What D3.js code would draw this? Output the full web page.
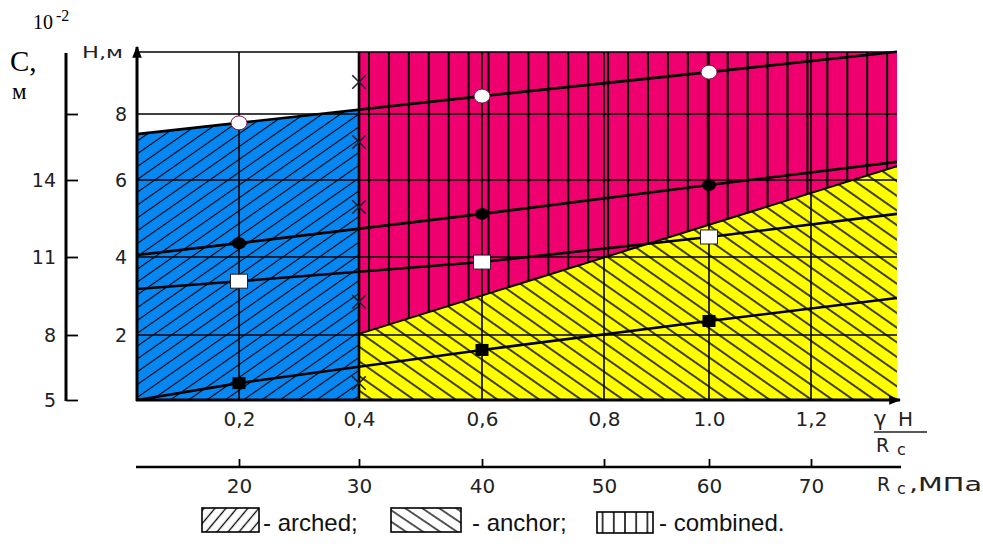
<!DOCTYPE html>
<html lang="en">
<head>
<meta charset="UTF-8">
<title>Zones of support types</title>
<style>
  body{ margin:0; overflow:hidden; background:#fff; }
</style>
</head>
<body>
<script src="https://cdnjs.cloudflare.com/ajax/libs/d3/7.8.2/d3.min.js"></script>
<script>
// ---- data ----
const xTicks = [0.2, 0.4, 0.6, 0.8, 1.0, 1.2];
const xTickLabels = ["0,2", "0,4", "0,6", "0,8", "1.0", "1,2"];
const rcTicks = [20, 30, 40, 50, 60, 70];
const hTicks = [2, 4, 6, 8];
const cTicks = [5, 8, 11, 14, 17];
const cTickLabels = ["5", "8", "11", "14", ""];

// trend lines: x = gamma*H/Rc, values = H, m
const lineX = [0.03, 0.2, 0.6, 1.0, 1.37];
const hOpenCircle = [7.39, 7.73, 8.56, 9.31, 9.95];
const hDot = [4.05, 4.36, 5.12, 5.87, 6.55];
const hOpenSquare = [3.18, 3.38, 3.87, 4.52, 5.12];
const hSquare = [0, 0.52, 1.54, 2.36, 2.95];

const crossX = 0.4;
const crossH = [9.0, 7.15, 5.3, 2.85, 0.52];

// zones [x, H]
const archedZone = [[0.03, 0], [0.03, 7.39], [0.4, 8.14], [0.4, 0]];
const combinedZone = [[0.4, 0], [0.4, 9.94], [1.37, 9.94], [1.37, 0]];
const anchorZone = [[0.4, 0], [0.4, 2.03], [1.37, 6.42], [1.37, 0]];

const legendLabels = ["- arched;", "- anchor;", "- combined."];

// ---- scales (the original grid is hand drawn, spacing is uneven) ----
const x = d3.scaleLinear()
  .domain([0.03, 0.2, 0.4, 0.6, 0.8, 1.0, 1.2, 1.37])
  .range([137, 239, 359, 482, 604, 709, 811, 897]);
const y = d3.scaleLinear()
  .domain([0, 2, 4, 6, 8, 9.94])
  .range([400, 335, 257, 180, 114, 52]);
const rc = d3.scaleLinear().domain(x.domain().map(d => 10 + 50 * d)).range(x.range());
const c = d3.scaleLinear().domain(y.domain().map(d => 5 + 1.5 * d)).range(y.range());

const x0 = x(0.03), x1 = x(1.37), yTop = y(9.94), yBot = y(0);

const svg = d3.select('body').append('svg')
  .attr('width', 983).attr('height', 546);

const defs = svg.append('defs');

function hatch(id, fill, step, angle, sw, ox) {
  const p = defs.append('pattern').attr('id', id)
    .attr('patternUnits', 'userSpaceOnUse')
    .attr('width', step).attr('height', step)
    .attr('patternTransform', `translate(${ox || 0},0) rotate(${angle})`);
  p.append('rect').attr('width', step).attr('height', step).attr('fill', fill);
  p.append('line').attr('x1', -1).attr('x2', step + 1)
    .attr('y1', step / 2).attr('y2', step / 2)
    .attr('stroke', '#000').attr('stroke-width', sw);
}
hatch('hArched', '#0787f2', 10.5, -35, 1.1);
hatch('hAnchor', '#ffff00', 12, 35, 1.5);
hatch('hCombined', '#f0006f', 19.93, 90, 2, x(0.4));
hatch('lgArched', '#fff', 8.4, -50, 1.3);
hatch('lgAnchor', '#fff', 9.5, 34, 1.3);
hatch('lgCombined', '#fff', 11.2, 90, 1.5, 597);

defs.append('clipPath').attr('id', 'plot')
  .append('rect').attr('x', x0).attr('y', yTop - 2)
  .attr('width', x1 - x0).attr('height', yBot - yTop + 2);

defs.append('marker').attr('id', 'arrow')
  .attr('viewBox', '0 0 10 10').attr('refX', 9).attr('refY', 5)
  .attr('markerWidth', 4).attr('markerHeight', 4)
  .attr('markerUnits', 'strokeWidth').attr('orient', 'auto')
  .append('path').attr('d', 'M0,1L10,5L0,9Z').attr('fill', '#000');

const zone = d3.line().x(d => x(d[0])).y(d => y(d[1]));

const g = svg.append('g').attr('clip-path', 'url(#plot)');

g.append('path').attr('d', zone(archedZone) + 'Z').attr('fill', 'url(#hArched)');
g.append('path').attr('d', zone(combinedZone) + 'Z').attr('fill', 'url(#hCombined)');
g.append('path').attr('d', zone(anchorZone) + 'Z').attr('fill', 'url(#hAnchor)');

// grid
g.selectAll('.hg').data(hTicks).join('line')
  .attr('x1', x0).attr('x2', x1)
  .attr('y1', d => y(d)).attr('y2', d => y(d))
  .attr('stroke', '#000').attr('stroke-width', 1.6);
g.selectAll('.vg').data(xTicks).join('line')
  .attr('x1', d => x(d)).attr('x2', d => x(d))
  .attr('y1', yTop).attr('y2', yBot)
  .attr('stroke', '#000').attr('stroke-width', d => d === 0.4 ? 2.6 : 1.6);

// top edge of the field
svg.append('line').attr('x1', x0).attr('x2', x1).attr('y1', yTop).attr('y2', yTop)
  .attr('stroke', '#000').attr('stroke-width', 1.6);

// anchor zone border
g.append('line')
  .attr('x1', x(anchorZone[1][0])).attr('y1', y(anchorZone[1][1]))
  .attr('x2', x(anchorZone[2][0])).attr('y2', y(anchorZone[2][1]))
  .attr('stroke', '#000').attr('stroke-width', 2);

// trend lines
const series = [hOpenCircle, hDot, hOpenSquare, hSquare];
const trend = d3.line().x((d, i) => x(lineX[i])).y(d => y(d));
g.selectAll('.trend').data(series).join('path')
  .attr('d', d => trend(d))
  .attr('fill', 'none').attr('stroke', '#000').attr('stroke-width', 2.6);

const mid = [1, 2, 3];
// open circles
svg.append('g').selectAll('ellipse').data(mid).join('ellipse')
  .attr('cx', i => x(lineX[i])).attr('cy', i => y(hOpenCircle[i]))
  .attr('rx', 8).attr('ry', 7)
  .attr('fill', '#fff').attr('stroke', '#8a1040').attr('stroke-width', 1);
// filled circles
svg.append('g').selectAll('ellipse').data(mid).join('ellipse')
  .attr('cx', i => x(lineX[i])).attr('cy', i => y(hDot[i]))
  .attr('rx', 7).attr('ry', 6).attr('fill', '#000');
// open squares
svg.append('g').selectAll('rect').data(mid).join('rect')
  .attr('x', i => x(lineX[i]) - 8.5).attr('y', i => y(hOpenSquare[i]) - 7)
  .attr('width', 17).attr('height', 14)
  .attr('fill', '#fff').attr('stroke', '#222').attr('stroke-width', 1);
// filled squares
svg.append('g').selectAll('rect').data(mid).join('rect')
  .attr('x', i => x(lineX[i]) - 6.5).attr('y', i => y(hSquare[i]) - 6)
  .attr('width', 13).attr('height', 12).attr('fill', '#000');

// crosses on the zone border
svg.append('g').selectAll('path').data(crossH).join('path')
  .attr('transform', d => `translate(${x(crossX)},${y(d)})`)
  .attr('d', d3.symbol(d3.symbolTimes, 120)())
  .attr('fill', 'none').attr('stroke', '#1b1b2a').attr('stroke-width', 1.5);

// main axes with arrows
svg.append('line').attr('x1', x0).attr('x2', x0).attr('y1', yBot + 1).attr('y2', yTop - 5)
  .attr('stroke', '#000').attr('stroke-width', 3).attr('marker-end', 'url(#arrow)');
svg.append('line').attr('x1', x0 - 1).attr('x2', x1 + 3).attr('y1', yBot).attr('y2', yBot)
  .attr('stroke', '#000').attr('stroke-width', 3).attr('marker-end', 'url(#arrow)');

const font = '"DejaVu Sans", Verdana, sans-serif';

// H axis labels
const hAxis = svg.append('g').attr('transform', `translate(${x0},0)`)
  .call(d3.axisLeft(y).tickValues(hTicks).tickSize(0).tickPadding(10));
hAxis.select('.domain').remove();
hAxis.selectAll('text').attr('font-family', font).attr('font-size', 19).attr('fill', '#222');

svg.append('text').attr('x', 82).attr('y', 58)
  .attr('font-family', font).attr('font-size', 16).attr('fill', '#222')
  .attr('textLength', 41).attr('lengthAdjust', 'spacingAndGlyphs')
  .text('Н,м');

// C axis
svg.append('line').attr('x1', 66).attr('x2', 66).attr('y1', 53).attr('y2', c(5) + 1)
  .attr('stroke', '#000').attr('stroke-width', 3);
const cTicksG = svg.append('g').attr('transform', 'translate(66,0)')
  .call(d3.axisRight(c).tickValues(cTicks).tickSize(12).tickFormat(''));
cTicksG.select('.domain').remove();
cTicksG.selectAll('line').attr('stroke-width', 1.8);
const cAxis = svg.append('g').attr('transform', 'translate(66,0)')
  .call(d3.axisLeft(c).tickValues(cTicks).tickSize(0).tickPadding(10)
    .tickFormat((d, i) => cTickLabels[i]));
cAxis.select('.domain').remove();
cAxis.selectAll('text').attr('font-family', font).attr('font-size', 19).attr('fill', '#222');

const serif = '"Liberation Serif", "Times New Roman", serif';
svg.append('text').attr('x', 10).attr('y', 71)
  .attr('font-family', serif).attr('font-size', 29).text('С,');
svg.append('text').attr('x', 12).attr('y', 99)
  .attr('font-family', serif).attr('font-size', 23).text('м');
const pow = svg.append('text').attr('x', 33).attr('y', 29)
  .attr('font-family', serif).attr('font-size', 20).text('10');
pow.append('tspan').attr('dx', 3).attr('dy', -8).attr('font-size', 16).text('-2');

// gamma*H/Rc axis labels
const xAxis = svg.append('g').attr('transform', `translate(0,${yBot})`)
  .call(d3.axisBottom(x).tickValues(xTicks).tickSize(0).tickPadding(12)
    .tickFormat((d, i) => xTickLabels[i]));
xAxis.select('.domain').remove();
xAxis.selectAll('text').attr('font-family', font).attr('font-size', 20).attr('fill', '#222');

const lab = svg.append('g').attr('font-family', font).attr('fill', '#222');
lab.append('text').attr('x', 874).attr('y', 426).attr('font-size', 21).text('γ');
lab.append('text').attr('x', 898).attr('y', 426).attr('font-size', 20).text('H');
lab.append('line').attr('x1', 874).attr('x2', 927).attr('y1', 432).attr('y2', 432)
  .attr('stroke', '#222').attr('stroke-width', 1.6);
lab.append('text').attr('x', 876).attr('y', 452).attr('font-size', 19).text('R');
lab.append('text').attr('x', 897).attr('y', 455).attr('font-size', 16).text('c');

// Rc axis
const rcY = 467;
svg.append('line').attr('x1', 136).attr('x2', 901).attr('y1', rcY).attr('y2', rcY)
  .attr('stroke', '#000').attr('stroke-width', 2.5);
const rcTicksG = svg.append('g').attr('transform', `translate(0,${rcY})`)
  .call(d3.axisTop(rc).tickValues(rcTicks).tickSize(8).tickFormat(''));
rcTicksG.select('.domain').remove();
rcTicksG.selectAll('line').attr('stroke-width', 1.8);
const rcAxis = svg.append('g').attr('transform', `translate(0,${rcY})`)
  .call(d3.axisBottom(rc).tickValues(rcTicks).tickSize(0).tickPadding(12));
rcAxis.select('.domain').remove();
rcAxis.selectAll('text').attr('font-family', font).attr('font-size', 20).attr('fill', '#222');

lab.append('text').attr('x', 877).attr('y', 491).attr('font-size', 19).text('R');
lab.append('text').attr('x', 897).attr('y', 494).attr('font-size', 16).text('c');
lab.append('text').attr('x', 909).attr('y', 491).attr('font-size', 19)
  .attr('textLength', 73).attr('lengthAdjust', 'spacingAndGlyphs').text(',МПа');

// legend
const legendBoxes = [
  { x: 202, y: 508, w: 57, h: 24, fill: 'url(#lgArched)', tx: 263 },
  { x: 391, y: 508, w: 70, h: 24, fill: 'url(#lgAnchor)', tx: 472 },
  { x: 597, y: 512, w: 56, h: 21, fill: 'url(#lgCombined)', tx: 659 }
];
const lg = svg.append('g').selectAll('g').data(legendLabels).join('g');
lg.append('rect')
  .attr('x', (d, i) => legendBoxes[i].x).attr('y', (d, i) => legendBoxes[i].y)
  .attr('width', (d, i) => legendBoxes[i].w).attr('height', (d, i) => legendBoxes[i].h)
  .attr('fill', (d, i) => legendBoxes[i].fill)
  .attr('stroke', '#000').attr('stroke-width', 1.6);
lg.append('text')
  .attr('x', (d, i) => legendBoxes[i].tx).attr('y', 531)
  .attr('font-family', '"Liberation Sans", Arial, sans-serif').attr('font-size', 24)
  .attr('fill', '#111')
  .text(d => d);
</script>
</body>
</html>
